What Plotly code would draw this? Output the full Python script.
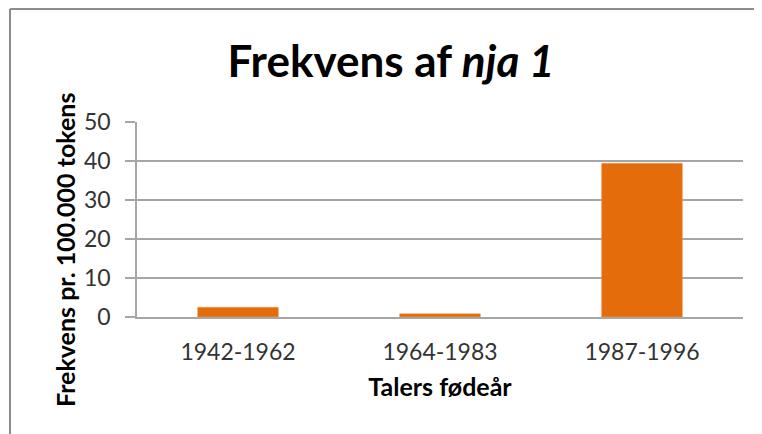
import plotly.graph_objects as go

categories = ["1942-1962", "1964-1983", "1987-1996"]
values = [2.5, 0.85, 39.4]
y_ticks = [0, 10, 20, 30, 40, 50]

W, H = 762, 434
# page body adds an 8px offset; positions below are in figure coordinates
L, R, T, B = 129, 27, 114, 125
PW, PH = W - L - R, H - T - B

def px(x):
    return (x - L) / PW

def py(y):
    return (H - B - y) / PH

fig = go.Figure(go.Bar(
    x=categories, y=values,
    marker=dict(color="#E46C0A", line=dict(color="#F0A060", width=0.5)),
    width=0.4,
))

fig.update_layout(
    width=W, height=H,
    margin=dict(l=L, r=R, t=T, b=B),
    paper_bgcolor="white", plot_bgcolor="white",
    showlegend=False,
    title=dict(
        text="Frekvens af <i>nja 1</i>",
        x=383 / W, xanchor="center",
        y=1 - 54 / H, yanchor="middle",
        font=dict(family="Lato", size=44, color="black", weight="bold"),
    ),
    xaxis=dict(
        showline=True, linecolor="#A6A6A6", linewidth=1.5,
        ticks="", tickfont=dict(family="Lato", size=23, color="#333333"),
        ticklabelstandoff=14,
        title=dict(text="<b>Talers fødeår</b>", font=dict(family="Lato", size=25, color="black"), standoff=14),
        showgrid=False,
    ),
    yaxis=dict(
        range=[0, 50], tickvals=y_ticks,
        showline=True, linecolor="#A6A6A6", linewidth=1.5,
        ticks="outside", ticklen=10, tickcolor="#A6A6A6", tickwidth=1.5,
        showgrid=True, gridcolor="#A6A6A6", gridwidth=1.5,
        zeroline=False, ticklabelstandoff=10,
        tickfont=dict(family="Lato", size=23, color="#333333"),
    ),
    annotations=[
        dict(text="<b>Frekvens pr. 100.000 tokens</b>", xref="paper", yref="paper",
             x=px(57), y=py(242), xanchor="center", yanchor="middle",
             textangle=-90, showarrow=False,
             font=dict(family="Lato", size=25, color="black")),
    ],
    shapes=[
        dict(type="line", xref="paper", yref="paper",
             x0=px(2), x1=px(W + 10), y0=py(1), y1=py(1),
             line=dict(color="#8C8C8C", width=2)),
        dict(type="line", xref="paper", yref="paper",
             x0=px(2), x1=px(2), y0=py(1), y1=py(H + 10),
             line=dict(color="#8C8C8C", width=2)),
    ],
)

fig.write_html("out.html")
